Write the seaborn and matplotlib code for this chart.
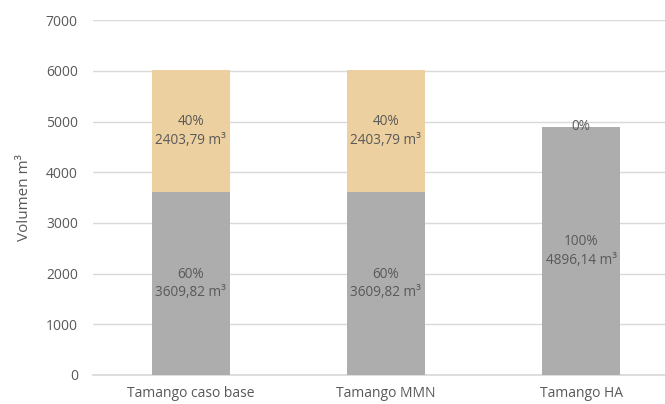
import matplotlib
matplotlib.use("Agg")
import matplotlib.pyplot as plt
import seaborn as sns
import pandas as pd

categories = ["Tamango caso base", "Tamango MMN", "Tamango HA"]
bottom_vals = [3609.82, 3609.82, 4896.14]
top_vals = [2403.79, 2403.79, 0.0]
bottom_pct = ["60%", "60%", "100%"]
top_pct = ["40%", "40%", "0%"]

gray = "#ADADAD"
tan = "#EDD09F"
text_col = "#595959"
grid_col = "#D9D9D9"

sns.set_theme(style="white")
plt.rcParams["font.family"] = ["Open Sans", "DejaVu Sans"]

df = pd.DataFrame({
    "cat": categories,
    "bottom": bottom_vals,
    "top": top_vals,
})
df["total"] = df["bottom"] + df["top"]

fig = plt.figure(figsize=(6.65, 4.04), dpi=100)
ax = fig.add_axes([0.14, 0.072, 0.86, 0.878])

sns.barplot(data=df, x="cat", y="total", color=tan, saturation=1, width=0.4,
            linewidth=0, ax=ax, zorder=2)
sns.barplot(data=df, x="cat", y="bottom", color=gray, saturation=1, width=0.4,
            linewidth=0, ax=ax, zorder=3)

for i, row in df.iterrows():
    b, t = row["bottom"], row["top"]
    ax.text(i, b / 2, f"{bottom_pct[i]}\n{b:.2f}".replace(".", ",") + " m³",
            ha="center", va="center", fontsize=9.8, color=text_col, zorder=5, linespacing=1.3)
    if t > 0:
        ax.text(i, b + t / 2, f"{top_pct[i]}\n{t:.2f}".replace(".", ",") + " m³",
                ha="center", va="center", fontsize=9.8, color=text_col, zorder=5, linespacing=1.3)
    else:
        ax.text(i, b, top_pct[i], ha="center", va="center", fontsize=9.8,
                color=text_col, zorder=5)

ax.set_ylim(0, 7000)
ax.set_xlim(-0.5, 2.43)
ax.set_yticks(range(0, 7001, 1000))
ax.yaxis.grid(True, color=grid_col, linewidth=1, zorder=0)
ax.set_axisbelow(True)
for s in ["top", "right", "left"]:
    ax.spines[s].set_visible(False)
ax.spines["bottom"].set_color(grid_col)
ax.tick_params(axis="y", length=0, pad=11, labelsize=10, labelcolor=text_col)
ax.tick_params(axis="x", length=0, pad=8, labelsize=10, labelcolor=text_col)
ax.set_xlabel("")
ax.set_ylabel("Volumen m³", fontsize=11, color=text_col, labelpad=10)

fig.savefig("out.png", dpi=100)
